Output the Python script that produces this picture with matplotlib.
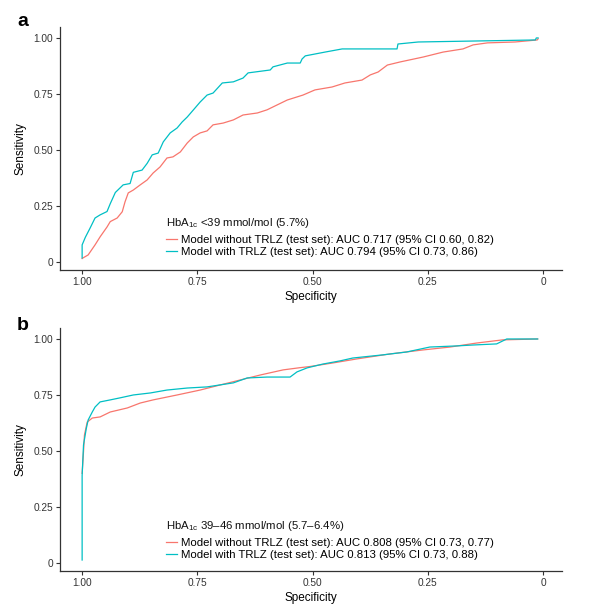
import matplotlib
matplotlib.use("Agg")
import matplotlib.pyplot as plt

plt.rcParams["font.family"] = ["Liberation Sans", "DejaVu Sans"]
plt.rcParams["mathtext.fontset"] = "custom"
plt.rcParams["mathtext.rm"] = "Liberation Sans"
plt.rcParams["mathtext.it"] = "Liberation Sans:italic"

red = "#F8766D"
cyan = "#00BFC4"
text_col = "#333333"

# panel a: HbA1c <39
a_spec_without = [1.0, 0.998, 0.987, 0.972, 0.961, 0.946, 0.939, 0.924, 0.913, 0.907, 0.9, 0.889,
                  0.874, 0.859, 0.846, 0.831, 0.816, 0.803, 0.787, 0.772, 0.759, 0.744, 0.729, 0.716,
                  0.694, 0.672, 0.651, 0.62, 0.599, 0.577, 0.555, 0.521, 0.495, 0.458, 0.43, 0.393,
                  0.375, 0.358, 0.338, 0.31, 0.26, 0.217, 0.174, 0.152, 0.121, 0.061, 0.013, 0.011]
a_sens_without = [0.015, 0.018, 0.031, 0.076, 0.112, 0.156, 0.18, 0.196, 0.224, 0.268, 0.308, 0.321,
                  0.344, 0.366, 0.397, 0.424, 0.464, 0.469, 0.491, 0.531, 0.558, 0.576, 0.585, 0.612,
                  0.62, 0.634, 0.656, 0.665, 0.679, 0.701, 0.723, 0.745, 0.768, 0.781, 0.799, 0.812,
                  0.835, 0.848, 0.879, 0.893, 0.915, 0.937, 0.951, 0.969, 0.978, 0.982, 0.991, 0.996]

a_spec_with = [1.0, 1.0, 0.993, 0.983, 0.972, 0.961, 0.946, 0.939, 0.928, 0.918, 0.911, 0.896,
               0.889, 0.87, 0.859, 0.848, 0.835, 0.824, 0.809, 0.794, 0.783, 0.772, 0.759, 0.744,
               0.729, 0.716, 0.696, 0.672, 0.651, 0.64, 0.592, 0.586, 0.555, 0.527, 0.523, 0.516,
               0.473, 0.436, 0.317, 0.315, 0.271, 0.017, 0.015, 0.011]
a_sens_with = [0.018, 0.076, 0.11, 0.15, 0.196, 0.21, 0.225, 0.26, 0.31, 0.33, 0.344, 0.35,
               0.40, 0.41, 0.44, 0.478, 0.486, 0.536, 0.576, 0.598, 0.625, 0.647, 0.678, 0.714,
               0.745, 0.754, 0.799, 0.804, 0.821, 0.844, 0.857, 0.871, 0.888, 0.888, 0.906, 0.92,
               0.937, 0.951, 0.951, 0.973, 0.982, 0.991, 1.0, 1.0]

# panel b: HbA1c 39-46
b_spec_without = [1.0, 0.997, 0.995, 0.989, 0.978, 0.961, 0.939, 0.902, 0.874, 0.846, 0.794, 0.744,
                  0.7, 0.657, 0.614, 0.564, 0.527, 0.506, 0.456, 0.404, 0.333, 0.261, 0.202, 0.144,
                  0.088, 0.012]
b_sens_without = [0.40, 0.496, 0.571, 0.629, 0.647, 0.652, 0.674, 0.692, 0.714, 0.728, 0.75, 0.772,
                  0.795, 0.817, 0.839, 0.862, 0.872, 0.877, 0.893, 0.911, 0.933, 0.951, 0.964, 0.982,
                  0.996, 1.0]

b_spec_with = [1.0, 1.0, 0.997, 0.991, 0.987, 0.978, 0.972, 0.961, 0.939, 0.918, 0.889, 0.852,
               0.816, 0.772, 0.729, 0.672, 0.642, 0.599, 0.549, 0.534, 0.512, 0.478, 0.441, 0.413,
               0.348, 0.296, 0.246, 0.188, 0.153, 0.101, 0.079, 0.012]
b_sens_with = [0.013, 0.39, 0.527, 0.60, 0.638, 0.674, 0.696, 0.719, 0.728, 0.737, 0.75, 0.759,
               0.772, 0.781, 0.786, 0.804, 0.826, 0.83, 0.83, 0.853, 0.871, 0.888, 0.902, 0.915,
               0.929, 0.942, 0.964, 0.969, 0.973, 0.978, 1.0, 1.0]

a_title = r"HbA$_{\mathrm{1c}}$ <39 mmol/mol (5.7%)"
a_labels = ["Model without TRLZ (test set): AUC 0.717 (95% CI 0.60, 0.82)",
            "Model with TRLZ (test set): AUC 0.794 (95% CI 0.73, 0.86)"]
b_title = r"HbA$_{\mathrm{1c}}$ 39–46 mmol/mol (5.7–6.4%)"
b_labels = ["Model without TRLZ (test set): AUC 0.808 (95% CI 0.73, 0.77)",
            "Model with TRLZ (test set): AUC 0.813 (95% CI 0.73, 0.88)"]

ticks = [1.0, 0.75, 0.5, 0.25, 0.0]
tick_labels = ["1.00", "0.75", "0.50", "0.25", "0"]

fig = plt.figure(figsize=(5.9, 6.09), dpi=100)
ax1 = fig.add_axes([0.1017, 0.5567, 0.851, 0.399])
ax2 = fig.add_axes([0.1017, 0.0624, 0.851, 0.399])


def style(ax, title, labels, spec_wo, sens_wo, spec_w, sens_w, leg_y):
    ax.plot(spec_wo, sens_wo, color=red, lw=0.9, label=labels[0])
    ax.plot(spec_w, sens_w, color=cyan, lw=0.9, label=labels[1])
    ax.set_xlim(1.048, -0.041)
    ax.set_ylim(-0.036, 1.049)
    ax.set_xticks(ticks)
    ax.set_xticklabels(tick_labels)
    ax.set_yticks(ticks)
    ax.set_yticklabels(tick_labels)
    for s in ["top", "right"]:
        ax.spines[s].set_visible(False)
    for s in ["left", "bottom"]:
        ax.spines[s].set_color(text_col)
        ax.spines[s].set_linewidth(0.9)
    ax.tick_params(length=3, width=0.8, color=text_col, labelsize=7.3, labelcolor=text_col, pad=2)
    ax.set_xlabel("Specificity", fontsize=8.5, labelpad=3)
    ax.set_ylabel("Sensitivity", fontsize=8.5, labelpad=5)
    leg = ax.legend(title=title, loc="lower left", bbox_to_anchor=(0.202, leg_y), frameon=False,
                    fontsize=8.2, title_fontsize=8.2, handlelength=1.0, handletextpad=0.3,
                    labelspacing=0.18, alignment="left", borderaxespad=0)
    leg.get_title().set_color("#111111")
    # a bit more room between legend title and keys
    leg._legend_box.sep = 0.4 * 8.2


style(ax1, a_title, a_labels, a_spec_without, a_sens_without, a_spec_with, a_sens_with, 0.035)
style(ax2, b_title, b_labels, b_spec_without, b_sens_without, b_spec_with, b_sens_with, 0.027)

fig.text(17 / 590, 1 - 26 / 609, "a", fontsize=14, fontweight="bold", va="baseline")
fig.text(17 / 590, 1 - 330 / 609, "b", fontsize=14, fontweight="bold", va="baseline")

fig.savefig("out.png", dpi=100)
